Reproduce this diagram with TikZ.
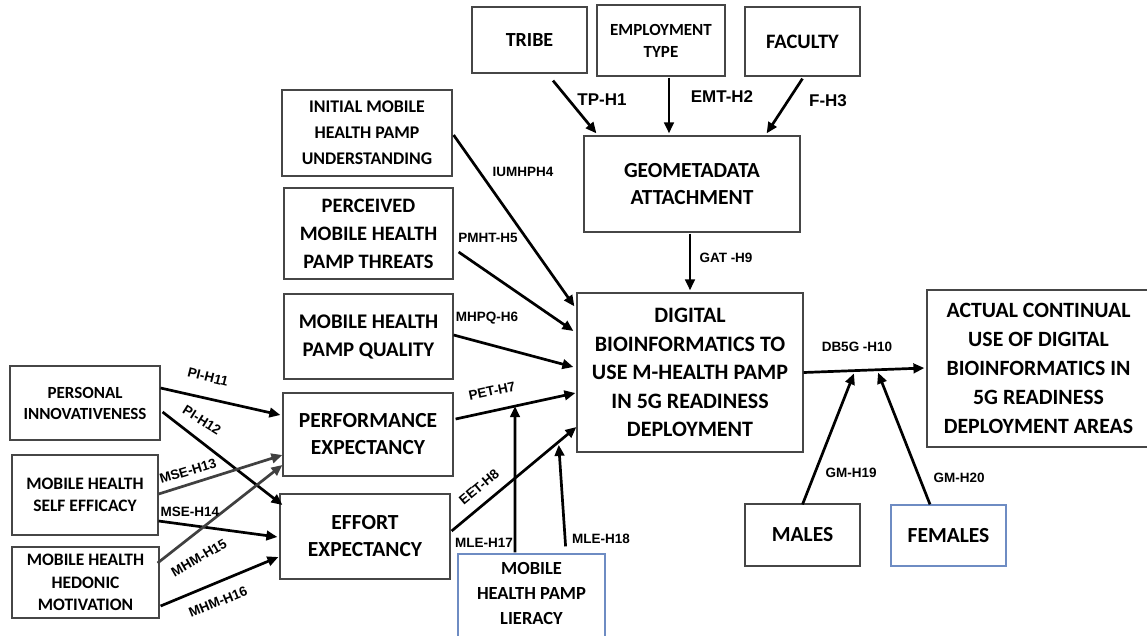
\documentclass[tikz,border=0pt]{standalone}
\usepackage{fontspec}
\setmainfont{Carlito}
\newfontfamily\lblfont{Liberation Sans}
\usetikzlibrary{arrows.meta,calc}
\definecolor{boxgray}{RGB}{70,70,70}
\definecolor{boxblue}{RGB}{110,140,195}
\definecolor{arrgray}{RGB}{64,64,64}
\newcommand\setfs[2]{\fontsize{#1pt}{#2pt}\selectfont}
\begin{document}
\begin{tikzpicture}[x=1pt,y=-1pt,
 box/.style={draw=boxgray, line width=1.2pt, align=center, inner sep=0pt, fill=white},
 bluebox/.style={box, draw=boxblue},
 txt/.style={align=center, inner sep=0pt},
 arr/.style={line width=2.7pt, -{Triangle[length=11pt,width=9.5pt]}},
 garr/.style={arr, draw=arrgray},
 lbl/.style={font=\lblfont\bfseries\setfs{13.5}{13.5}, inner sep=0pt},
 biglbl/.style={font=\lblfont\bfseries\setfs{17}{17}, inner sep=0pt},
]
\useasboundingbox[fill=white] (0,0) rectangle (1147,635);

% top boxes
\node[box, minimum width=115pt, minimum height=66pt, font=\bfseries\setfs{20}{25}] (tribe) at (529.5,40) {TRIBE};
\node[box, minimum width=128pt, minimum height=71pt, font=\bfseries\setfs{17}{22}] (emp) at (661,40.5) {EMPLOYMENT\\TYPE};
\node[box, minimum width=115pt, minimum height=69pt, font=\bfseries\setfs{20.5}{25}] (fac) at (802.5,41.5) {FACULTY};
\node[box, minimum width=216pt, minimum height=96pt, font=\bfseries\setfs{21.5}{27}] (geo) at (692,184) {GEOMETADATA\\ATTACHMENT};

% middle-left column
\node[box, minimum width=170pt, minimum height=86pt, font=\bfseries\setfs{17.8}{26}] (init) at (367,133) {INITIAL MOBILE\\HEALTH PAMP\\UNDERSTANDING};
\node[box, minimum width=169pt, minimum height=91pt, font=\bfseries\setfs{20.5}{28}] (perc) at (368.5,233.5) {PERCEIVED\\MOBILE HEALTH\\PAMP THREATS};
\node[box, minimum width=169pt, minimum height=85pt, font=\bfseries\setfs{20.8}{28}] (qual) at (368.5,336.5) {MOBILE HEALTH\\PAMP QUALITY};
\node[box, minimum width=170pt, minimum height=83pt, font=\bfseries\setfs{21.5}{27}] (perf) at (368,434.5) {PERFORMANCE\\EXPECTANCY};
\node[box, minimum width=170pt, minimum height=85pt, font=\bfseries\setfs{21.5}{27}] (eff) at (365,536.5) {EFFORT\\EXPECTANCY};

% far-left column
\node[box, minimum width=150pt, minimum height=74pt, font=\bfseries\setfs{17}{21}] (pers) at (85,403) {PERSONAL\\INNOVATIVENESS};
\node[box, minimum width=146pt, minimum height=80pt, font=\bfseries\setfs{17.5}{22}] (self) at (85,495) {MOBILE HEALTH\\SELF EFFICACY};
\node[box, minimum width=147pt, minimum height=71pt, font=\bfseries\setfs{17.5}{22.5}] (hed) at (85.5,582.5) {MOBILE HEALTH\\HEDONIC\\MOTIVATION};

% literacy box (cut by lower edge)
\node[bluebox, minimum width=147pt, minimum height=92pt] (lit) at (531.5,600) {};
\node[txt, font=\bfseries\setfs{18.5}{25}] (littext) at (531.5,593) {MOBILE\\HEALTH PAMP\\LIERACY};

% central and right boxes
\node[box, minimum width=226pt, minimum height=159pt, font=\bfseries\setfs{22}{28.5}] (dig) at (690,372.5) {DIGITAL\\BIOINFORMATICS TO\\USE M-HEALTH PAMP\\IN 5G READINESS\\DEPLOYMENT};
\node[box, minimum width=223pt, minimum height=157pt, font=\bfseries\setfs{21.8}{29}] (act) at (1038.5,368.5) {ACTUAL CONTINUAL\\USE OF DIGITAL\\BIOINFORMATICS IN\\5G READINESS\\DEPLOYMENT AREAS};
\node[box, minimum width=115pt, minimum height=62pt, font=\bfseries\setfs{21.5}{27}] (males) at (802.5,535) {MALES};
\node[bluebox, minimum width=115pt, minimum height=61pt, font=\bfseries\setfs{21.5}{27}] (fem) at (948.5,535.5) {FEMALES};

% arrows top
\draw[arr] ($(tribe.south)+(23.5,7)$) -- ($(geo.north west)+(13,-2)$);
\draw[arr] ($(emp.south)+(8,1)$) -- ($(geo.north)+(-23,-2)$);
\draw[arr] ($(fac.south)+(0,2)$) -- ($(geo.north east)+(-34,-2)$);
\draw[arr] ($(geo.south)+(-2,1)$) -- ($(dig.north)+(0,-2)$);

% arrows into dig
\draw[arr] ($(init.east)+(1,2)$) -- ($(dig.north west)+(-2,14)$);
\draw[arr] ($(perc.east)+(5,18.5)$) -- ($(dig.west)+(-3,-41.5)$);
\draw[arr] ($(qual.east)+(0,-1.5)$) -- ($(dig.west)+(-3,-5.5)$);
\draw[arr] ($(perf.east)+(2,-15.5)$) coordinate (petS) -- ($(dig.west)+(-1,20.5)$) coordinate (petE);
\draw[arr] ($(eff.east)+(1,-5.5)$) coordinate (eetS) -- ($(dig.west)+(0,54.5)$) coordinate (eetE);
\draw[arr] ($(lit.north)+(-16.5,-1)$) -- ($(petS)!0.496!(petE)$);
\draw[arr, shorten >=3pt] ($(lit.north east)+(-40,-7)$) -- ($(eetS)!0.857!(eetE)$);

% dig to act and moderators
\draw[arr] (dig.east) coordinate (dbS) -- ($(act.west)+(-2,-0.5)$) coordinate (dbE);
\draw[arr, shorten >=3pt] ($(males.north)+(0,1)$) -- ($(dbS)!0.426!(dbE)$);
\draw[arr, shorten >=3pt] ($(fem.north)+(-18.5,0)$) -- ($(dbS)!0.607!(dbE)$);

% left arrows
\draw[arr] ($(pers.east)+(0,-15)$) -- ($(perf.west)+(-2,-19.5)$);
\draw[arr] ($(pers.east)+(2,9)$) -- ($(eff.west)+(3,-31.5)$);
\draw[garr] ($(self.east)+(0,-1)$) -- ($(perf.west)+(0,20.5)$);
\draw[arr] ($(self.east)+(0,26)$) -- ($(eff.west)+(-2,0.5)$);
\draw[garr] ($(hed.east)+(-2,-19.5)$) -- ($(perf.west)+(0,30.5)$);
\draw[arr] ($(hed.east)+(1,23.5)$) -- ($(eff.west)+(-1,20.5)$);

% labels
\node[biglbl] (lTP) at (602,100) {TP-H1};
\node[biglbl] (lEMT) at (722,97) {EMT-H2};
\node[biglbl] (lF) at (828,101) {F-H3};
\node[lbl] (lIU) at (523,172) {IUMHPH4};
\node[lbl] (lPM) at (488,238) {PMHT-H5};
\node[lbl] (lMQ) at (487,318) {MHPQ-H6};
\node[lbl] (lGAT) at (726,258) {GAT -H9};
\node[lbl, rotate=12] (lPET) at (492,391) {PET-H7};
\node[lbl, rotate=40] (lEET) at (479,487) {EET-H8};
\node[lbl] (lM17) at (484,543) {MLE-H17};
\node[lbl] (lM18) at (601,539) {MLE-H18};
\node[lbl] (lDB) at (857,347) {DB5G -H10};
\node[lbl] (lG19) at (851,473) {GM-H19};
\node[lbl] (lG20) at (959,478) {GM-H20};
\node[lbl, rotate=-14] (lP11) at (208,377) {PI-H11};
\node[lbl, rotate=-32] (lP12) at (202,420) {PI-H12};
\node[lbl, rotate=17] (lS13) at (188,471) {MSE-H13};
\node[lbl] (lS14) at (190,512) {MSE-H14};
\node[lbl, rotate=30] (lH15) at (199,558) {MHM-H15};
\node[lbl, rotate=22] (lH16) at (218,602) {MHM-H16};
\end{tikzpicture}
\end{document}
